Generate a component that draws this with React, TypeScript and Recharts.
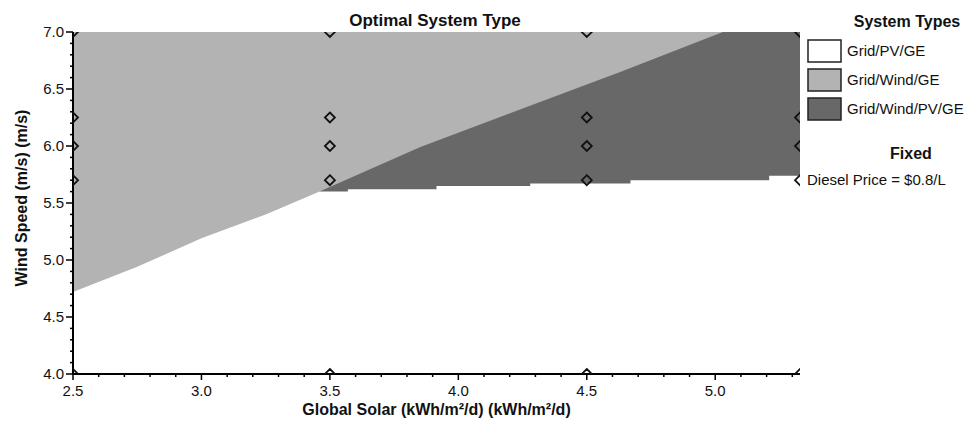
import { ComposedChart, Area, Scatter, XAxis, YAxis, Label } from "recharts";

const SOLAR_MIN = 2.5;
const SOLAR_MAX = 5.33;
const WIND_MIN = 4;
const WIND_MAX = 7;

// lower edge of the Grid/Wind/GE region (white below on the left, Grid/Wind/PV/GE below on the right)
const WIND_EDGE_SOLAR = [2.5, 2.75, 3.0, 3.25, 3.46, 3.85, 4.24, 4.63, 5.03];
const WIND_EDGE_WIND = [4.72, 4.94, 5.19, 5.4, 5.6, 5.99, 6.32, 6.65, 7.0];

// lower edge of the Grid/Wind/PV/GE region (stepped)
const HYBRID_EDGE_SOLAR = [3.46, 3.57, 3.915, 4.28, 4.67, 5.21, 5.33];
const HYBRID_EDGE_WIND = [5.6, 5.62, 5.65, 5.67, 5.7, 5.74, 5.74];

// sensitivity values (diamond markers)
const SENS_SOLAR = [2.5, 3.5, 4.5, 5.33];
const SENS_WIND = [4.0, 5.7, 6.0, 6.25, 7.0];

const LEGEND = [
  { label: "Grid/PV/GE", color: "#ffffff" },
  { label: "Grid/Wind/GE", color: "#b3b3b3" },
  { label: "Grid/Wind/PV/GE", color: "#686868" },
];

const X_TICKS = Array.from({ length: 29 }, (_, i) => Math.round((SOLAR_MIN + i * 0.1) * 10) / 10);
const Y_TICKS = Array.from({ length: 31 }, (_, i) => Math.round((WIND_MIN + i * 0.1) * 10) / 10);

const FONT = "'Liberation Sans', Arial, sans-serif";

// plot box, from the chart margins and axis sizes below
const MARGIN = { top: 32, right: 171, bottom: 0, left: 0 };
const Y_AXIS_W = 73;
const X_AXIS_H = 50;
const CHART_W = 971;
const CHART_H = 424;
const PLOT = {
  x: MARGIN.left + Y_AXIS_W,
  y: MARGIN.top,
  w: CHART_W - MARGIN.left - MARGIN.right - Y_AXIS_W,
  h: CHART_H - MARGIN.top - MARGIN.bottom - X_AXIS_H,
};

const rows = [
  ...WIND_EDGE_SOLAR.map((x, i) => ({ x, wind: WIND_EDGE_WIND[i] })),
  ...HYBRID_EDGE_SOLAR.map((x, i) => ({ x, hybrid: HYBRID_EDGE_WIND[i] })),
].sort((a, b) => a.x - b.x);

const points = SENS_SOLAR.flatMap((x) => SENS_WIND.map((y) => ({ x, y })));

const isMajor = (v: number) => Math.abs(v * 2 - Math.round(v * 2)) < 1e-6;

function XTick(props: any) {
  const { x, y, payload } = props;
  const major = isMajor(payload.value);
  return (
    <g>
      <line x1={x} x2={x} y1={y} y2={y + (major ? 6 : 3)} stroke="#000" strokeWidth={1.5} />
      {major && (
        <text x={x} y={y + 22} textAnchor="middle" fontSize={15} fontFamily={FONT} fill="#111">
          {payload.value.toFixed(1)}
        </text>
      )}
    </g>
  );
}

function YTick(props: any) {
  const { x, y, payload } = props;
  const major = isMajor(payload.value);
  return (
    <g>
      <line x1={x - (major ? 7 : 3)} x2={x} y1={y} y2={y} stroke="#000" strokeWidth={1.5} />
      {major && (
        <text x={x - 9} y={y + 5} textAnchor="end" fontSize={15} fontFamily={FONT} fill="#111">
          {payload.value.toFixed(1)}
        </text>
      )}
    </g>
  );
}

function Diamond(props: any) {
  const { cx, cy } = props;
  const r = 5;
  const id = `dclip-${Math.round(cx)}-${Math.round(cy)}`;
  return (
    <g>
      <defs>
        <clipPath id={id}>
          <rect x={PLOT.x} y={PLOT.y} width={PLOT.w} height={PLOT.h} />
        </clipPath>
      </defs>
      <path
        clipPath={`url(#${id})`}
        d={`M${cx},${cy - r}L${cx + r},${cy}L${cx},${cy + r}L${cx - r},${cy}Z`}
        fill="none"
        stroke="#111"
        strokeWidth={1.8}
      />
    </g>
  );
}

export default function App() {
  return (
    <div style={{ position: "absolute", left: 0, top: 0, width: CHART_W, height: CHART_H, background: "#fff" }}>
      <ComposedChart width={CHART_W} height={CHART_H} data={rows} margin={MARGIN}>
        <Area
          dataKey={(d: any) => (d.hybrid == null ? [null, null] : [d.hybrid, WIND_MAX])}
          type="stepAfter"
          fill="#686868"
          fillOpacity={1}
          stroke="none"
          connectNulls
          dot={false}
          activeDot={false}
          isAnimationActive={false}
        />
        <Area
          dataKey={(d: any) => (d.wind == null ? [null, null] : [d.wind, WIND_MAX])}
          type="linear"
          fill="#b3b3b3"
          fillOpacity={1}
          stroke="none"
          connectNulls
          dot={false}
          activeDot={false}
          isAnimationActive={false}
        />
        <Scatter data={points} dataKey="y" shape={<Diamond />} isAnimationActive={false} />
        <XAxis
          type="number"
          dataKey="x"
          domain={[SOLAR_MIN, SOLAR_MAX]}
          allowDataOverflow
          ticks={X_TICKS}
          interval={0}
          tickSize={0}
          tickMargin={0}
          tickLine={false}
          tick={<XTick />}
          height={X_AXIS_H}
          axisLine={{ stroke: "#000", strokeWidth: 2 }}
        >
          <Label
            value="Global Solar (kWh/m²/d) (kWh/m²/d)"
            position="insideBottom"
            offset={9}
            fontSize={16}
            fontWeight="bold"
            fontFamily={FONT}
            fill="#111"
          />
        </XAxis>
        <YAxis
          type="number"
          domain={[WIND_MIN, WIND_MAX]}
          allowDataOverflow
          ticks={Y_TICKS}
          interval={0}
          tickSize={0}
          tickMargin={0}
          tickLine={false}
          tick={<YTick />}
          width={Y_AXIS_W}
          axisLine={{ stroke: "#000", strokeWidth: 2 }}
        >
          <Label
            content={(p: any) => {
              const vb = p.viewBox || { x: 0, y: PLOT.y, width: Y_AXIS_W, height: PLOT.h };
              const cx = vb.x + 27;
              const cy = vb.y + vb.height / 2 - 5;
              return (
                <text
                  x={cx}
                  y={cy}
                  transform={`rotate(-90, ${cx}, ${cy})`}
                  textAnchor="middle"
                  fontSize={16}
                  fontWeight="bold"
                  fontFamily={FONT}
                  fill="#111"
                >
                  Wind Speed (m/s) (m/s)
                </text>
              );
            }}
          />
        </YAxis>
        <XAxis
          xAxisId="top"
          orientation="top"
          type="number"
          domain={[SOLAR_MIN, SOLAR_MAX]}
          height={0}
          tick={false}
          tickLine={false}
          axisLine={{ stroke: "#000", strokeWidth: 2 }}
        />
        <YAxis
          yAxisId="right"
          orientation="right"
          type="number"
          domain={[WIND_MIN, WIND_MAX]}
          width={0}
          tick={false}
          tickLine={false}
          axisLine={{ stroke: "#000", strokeWidth: 2 }}
        />
      </ComposedChart>

      {/* title and legend */}
      <svg
        width={CHART_W}
        height={CHART_H}
        style={{ position: "absolute", left: 0, top: 0, pointerEvents: "none" }}
        fontFamily={FONT}
        fill="#111"
      >
        <text x={435} y={26} textAnchor="middle" fontSize={17} fontWeight="bold">
          Optimal System Type
        </text>
        <text x={907} y={27} textAnchor="middle" fontSize={16} fontWeight="bold">
          System Types
        </text>
        {LEGEND.map((item, i) => (
          <g key={item.label}>
            <rect x={808} y={40 + i * 29} width={33} height={22} fill={item.color} stroke="#222" strokeWidth={1.5} />
            <text x={847} y={56 + i * 29} fontSize={15}>
              {item.label}
            </text>
          </g>
        ))}
        <text x={911} y={159} textAnchor="middle" fontSize={16} fontWeight="bold">
          Fixed
        </text>
        <text x={807} y={185} fontSize={15}>
          Diesel Price = $0.8/L
        </text>
      </svg>
    </div>
  );
}
